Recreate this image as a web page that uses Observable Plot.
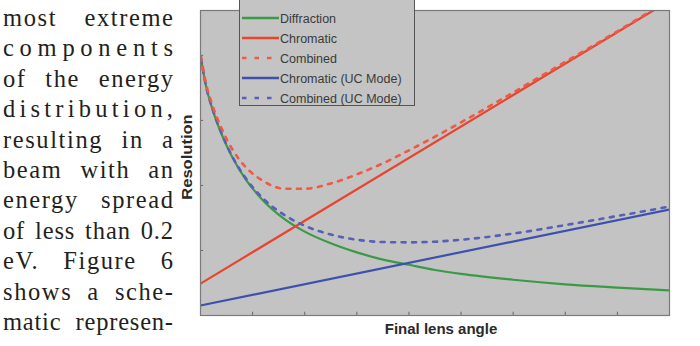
<!DOCTYPE html>
<html>
<head>
<meta charset="utf-8">
<script src="https://cdn.jsdelivr.net/npm/d3@7"></script>
<script src="https://cdn.jsdelivr.net/npm/@observablehq/plot@0.6"></script>
<style>
  html, body { margin: 0; padding: 0; background: #fff; }
  #wrap { position: relative; width: 700px; height: 346px; overflow: hidden; }
  #plot svg { position: absolute; left: 0; top: 0; }
  .lbl { position: absolute; font-family: "Liberation Sans", Arial, sans-serif; font-weight: bold; color: #2a2a2a; white-space: nowrap; }
  #legend { position: absolute; left: 239px; top: -2px; width: 176px; height: 108px; box-sizing: border-box;
            border: 1px solid #555; background: #c4c4c4; }
</style>
</head>
<body>
<div id="wrap">
  <svg id="textcol" width="180" height="346" style="position:absolute;left:0;top:0"></svg>
  <div id="plot"></div>
  <div id="legend"></div>
  <div class="lbl" id="xlabel" style="font-size:15px;left:441px;top:328px;transform:translate(-50%,-50%)">Final lens angle</div>
  <div class="lbl" id="ylabel" style="font-size:14px;left:187px;top:157px;transform:translate(-50%,-50%) rotate(-90deg) scaleX(1.18)">Resolution</div>
</div>
<script>
// ---- data ----
const xs = [0.01, 0.1, 0.23, 0.42, 0.6, 0.87, 1.2, 1.6, 2.0, 2.5, 3.0, 3.5, 4.0, 4.5, 5.0, 6.0, 7.0, 8.0, 9.0];
const diffraction = [3.95, 3.55, 3.17, 2.76, 2.45, 2.09, 1.77, 1.49, 1.29, 1.11, 0.97, 0.86, 0.78, 0.70, 0.64, 0.55, 0.48, 0.43, 0.385];
const combined = [3.98, 3.59, 3.23, 2.85, 2.57, 2.28, 2.07, 1.95, 1.95, 2.03, 2.17, 2.34, 2.54, 2.75, 2.97, 3.43, 3.90, 4.37, 4.86];
const combinedUC = [3.95, 3.55, 3.18, 2.77, 2.46, 2.11, 1.80, 1.55, 1.38, 1.245, 1.165, 1.13, 1.125, 1.135, 1.165, 1.26, 1.39, 1.53, 1.675];
const chromaticX = [0, 9];
const chromatic = [0.49, 4.84];
const chromaticUC = [0.154, 1.63];
const seriesNames = ["Diffraction", "Chromatic", "Combined", "Chromatic (UC Mode)", "Combined (UC Mode)"];
const seriesColors = ["#3b9a48", "#e8442e", "#ee5a44", "#3d50ae", "#5660b6"];
const seriesDashed = [false, false, true, false, true];
const xTicks = [1, 2, 3, 4, 5, 6, 7, 8, 9];
const yTicks = [1, 2, 3, 4];
const textLines = ["most extreme", "components", "of the energy", "distribution,", "resulting in a",
  "beam with an", "energy spread", "of less than 0.2", "eV. Figure 6", "shows a sche-", "matic represen-"];

// ---- build series tables ----
const mk = (X, Y) => X.map((x, i) => ({x, y: Y[i]}));
const data = [
  mk(xs, diffraction),
  mk(chromaticX, chromatic),
  mk(xs, combined),
  mk(chromaticX, chromaticUC),
  mk(xs, combinedUC)
];

const lineMarks = [0, 3, 1, 4, 2].map(i => Plot.line(data[i], {
  x: "x", y: "y",
  stroke: seriesColors[i],
  strokeWidth: seriesDashed[i] ? 2.6 : 2.2,
  strokeDasharray: seriesDashed[i] ? "4,6.5" : null,
  curve: "monotone-x",
  clip: true
}));

const chart = Plot.plot({
  width: 700, height: 346,
  marginLeft: 200, marginRight: 31, marginTop: 10, marginBottom: 31,
  x: {domain: [0, 9], axis: null},
  y: {domain: [0, 4.69], axis: null},
  style: {background: "transparent"},
  marks: [
    Plot.frame({fill: "#c3c3c3", stroke: null}),
    Plot.ruleX(xTicks, {x: d => d, y1: 0, y2: 0.05, stroke: "#666"}),
    Plot.ruleY(yTicks, {y: d => d, x1: 0, x2: 0.06, stroke: "#666"}),
    ...lineMarks,
    Plot.frame({stroke: "#7a7a7a", strokeWidth: 1.2})
  ]
});
document.getElementById("plot").appendChild(chart);

// ---- legend ----
const leg = d3.select("#legend");
const ls = leg.append("svg").attr("width", 176).attr("height", 108).style("position", "absolute").style("left", "-1px").style("top", "-1px");
seriesNames.forEach((name, i) => {
  const cy = 20 + i * 20;
  ls.append("line").attr("x1", 3).attr("x2", 40).attr("y1", cy).attr("y2", cy)
    .attr("stroke", seriesColors[i]).attr("stroke-width", seriesDashed[i] ? 2.6 : 2.4)
    .attr("stroke-dasharray", seriesDashed[i] ? "4.5,8" : null);
  ls.append("text").attr("x", 41).attr("y", cy + 4.5).text(name)
    .attr("font-family", "Liberation Sans, Arial, sans-serif").attr("font-size", 12.5).attr("fill", "#3a3a3a");
});

// ---- body text column (justified) ----
const tc = d3.select("#textcol");
const colW = 170;
textLines.forEach((t, i) => {
  const el = tc.append("text").attr("x", 3).attr("y", 26 + i * 30.4).text(t)
    .attr("font-family", "Liberation Serif, Times New Roman, serif").attr("font-size", 24.5).attr("fill", "#231f20");
  const w = el.node().getComputedTextLength();
  const spaces = (t.match(/ /g) || []).length;
  const extra = colW - w;
  if (extra > 0) {
    if (spaces > 0) {
      const ls2 = Math.min(1.6, extra * 0.6 / (t.length - 1));
      const w2 = w + ls2 * (t.length - 1);
      el.attr("letter-spacing", ls2).attr("word-spacing", (colW - w2) / spaces);
    } else {
      el.attr("letter-spacing", extra / (t.length - 1));
    }
  } else if (extra < 0) {
    el.attr("textLength", colW).attr("lengthAdjust", "spacingAndGlyphs");
  }
});
</script>
</body>
</html>
